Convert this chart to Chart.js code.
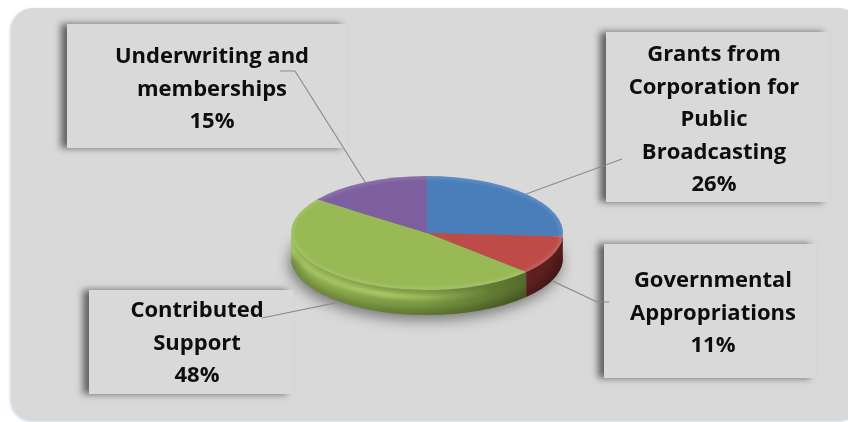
<!DOCTYPE html>
<html>
<head>
<meta charset="utf-8">
<script src="https://cdn.jsdelivr.net/npm/chart.js@4.4.1/dist/chart.umd.min.js"></script>
<style>
  html, body { margin: 0; padding: 0; background: #ffffff; overflow: hidden; }
  #wrap { position: relative; width: 848px; height: 422px; }
</style>
</head>
<body>
<div id="wrap"><canvas id="c" width="848" height="422"></canvas></div>
<script>
// Revenue sources, clockwise from 12 o'clock
const categories = [
  'Grants from Corporation for Public Broadcasting',
  'Governmental Appropriations',
  'Contributed Support',
  'Underwriting and memberships'
];
const shares = [26, 11, 48, 15];
const labelLines = [
  ['Grants from', 'Corporation for', 'Public', 'Broadcasting'],
  ['Governmental', 'Appropriations'],
  ['Contributed', 'Support'],
  ['Underwriting and', 'memberships']
];

// Styling
const topColors = ['#4a7ebb', '#be4b48', '#98b954', '#7d5f9f'];
const sideShades = [
  ['#3f6aa0', '#2f5283', '#22406a'],
  ['#a0403d', '#803130', '#551c1b'],
  ['#93b352', '#7a9841', '#465a24'],
  ['#6a5188', '#564270', '#3f3151']
];
const pieGeom = { cx: 427, cy: 233, rx: 136, ry: 57, depth: 25 };
const FONT_PX = 22;
const LINE_H = 32.5;
const FONT = 'bold ' + FONT_PX + 'px "Open Sans", "DejaVu Sans", sans-serif';

// Label callout boxes (one per category, same order)
const callouts = [
  { box: [606, 32, 223, 170], textX: 714, firstY: 55, path: [[622, 159]] },
  { box: [604, 244, 212, 134], textX: 713, firstY: 281, path: [[609, 302], [597, 302]] },
  { box: [89, 290, 204, 104], textX: 197, firstY: 311, path: [[262, 318]] },
  { box: [67, 24, 280, 124], textX: 212, firstY: 57, path: [[280, 71], [295, 71]] }
];

// Parts of an arc [a0, a1] whose rim faces the viewer (lower half of the ellipse)
function frontSegments(a0, a1) {
  const segs = [];
  for (let k = -1; k <= 2; k++) {
    const lo = Math.max(a0, 2 * Math.PI * k);
    const hi = Math.min(a1, 2 * Math.PI * k + Math.PI);
    if (hi > lo) segs.push([lo, hi]);
  }
  return segs;
}

const panelPlugin = {
  id: 'panel',
  beforeDraw(chart) {
    const ctx = chart.ctx;
    ctx.save();
    ctx.beginPath();
    ctx.roundRect(11, 8, 850, 413, 22);
    ctx.fillStyle = '#d9d9d9';
    ctx.shadowColor = 'rgba(120,150,200,0.35)';
    ctx.shadowBlur = 3;
    ctx.shadowOffsetX = -1;
    ctx.shadowOffsetY = 1;
    ctx.fill();
    ctx.restore();
  }
};

const pie3dPlugin = {
  id: 'pie3d',
  beforeDatasetsDraw(chart) {
    const ctx = chart.ctx;
    const arcs = chart.getDatasetMeta(0).data;
    const { cx, cy, rx, ry, depth } = pieGeom;

    // soft drop shadow under the disc
    ctx.save();
    ctx.beginPath();
    ctx.ellipse(cx, cy + depth, rx, ry, 0, 0, Math.PI * 2);
    ctx.fillStyle = '#777';
    ctx.shadowColor = 'rgba(0,0,0,0.45)';
    ctx.shadowBlur = 14;
    ctx.shadowOffsetX = -2;
    ctx.shadowOffsetY = 5;
    ctx.fill();
    ctx.restore();

    // rim of each slice
    arcs.forEach((arc, i) => {
      frontSegments(arc.startAngle, arc.endAngle).forEach(([lo, hi]) => {
        ctx.save();
        ctx.beginPath();
        ctx.ellipse(cx, cy, rx, ry, 0, lo, hi);
        ctx.ellipse(cx, cy + depth, rx, ry, 0, hi, lo, true);
        ctx.closePath();
        const g = ctx.createLinearGradient(cx - rx, 0, cx + rx, 0);
        g.addColorStop(0, sideShades[i][0]);
        g.addColorStop(0.5, sideShades[i][1]);
        g.addColorStop(1, sideShades[i][2]);
        ctx.fillStyle = g;
        ctx.fill();
        ctx.clip();
        // bevel highlight just under the top edge
        const h = ctx.createLinearGradient(cx - rx, 0, cx + rx, 0);
        h.addColorStop(0, 'rgba(225,255,150,0.25)');
        h.addColorStop(0.35, 'rgba(225,255,150,0.55)');
        h.addColorStop(0.75, 'rgba(225,255,150,0.0)');
        ctx.beginPath();
        ctx.ellipse(cx, cy + 7, rx, ry, 0, 0, Math.PI);
        ctx.lineWidth = 5;
        ctx.strokeStyle = h;
        ctx.filter = 'blur(2px)';
        ctx.stroke();
        // darker lower edge
        ctx.beginPath();
        ctx.ellipse(cx, cy + depth, rx, ry, 0, 0, Math.PI);
        ctx.lineWidth = 12;
        ctx.strokeStyle = 'rgba(0,0,0,0.22)';
        ctx.filter = 'blur(3px)';
        ctx.stroke();
        ctx.restore();
      });
    });

    // squash the flat pie into the top face of the disc
    const a0 = arcs[0];
    ctx.save();
    ctx.translate(cx, cy);
    ctx.scale(1, ry / rx);
    ctx.translate(-a0.x, -a0.y);
  },
  afterDatasetsDraw(chart) {
    const ctx = chart.ctx;
    ctx.restore();
    const { cx, cy, rx, ry } = pieGeom;
    // gentle rounding on the top edge
    ctx.save();
    ctx.beginPath();
    ctx.ellipse(cx, cy, rx, ry, 0, 0, Math.PI * 2);
    ctx.clip();
    ctx.beginPath();
    ctx.ellipse(cx, cy, rx - 1, ry - 1, 0, 0, Math.PI * 2);
    ctx.lineWidth = 4;
    ctx.strokeStyle = 'rgba(255,255,255,0.12)';
    ctx.filter = 'blur(1.5px)';
    ctx.stroke();
    ctx.restore();
  }
};

const calloutPlugin = {
  id: 'callouts',
  afterDraw(chart) {
    const ctx = chart.ctx;
    const arcs = chart.getDatasetMeta(0).data;
    const { cx, cy, rx, ry, depth } = pieGeom;
    callouts.forEach((c) => {
      const [bx, by, bw, bh] = c.box;
      ctx.save();
      ctx.fillStyle = '#d9d9d9';
      ctx.shadowColor = 'rgba(0,0,0,0.55)';
      ctx.shadowBlur = 7;
      ctx.shadowOffsetX = -6;
      ctx.shadowOffsetY = 0;
      ctx.fillRect(bx, by, bw, bh);
      ctx.restore();
    });
    callouts.forEach((c, i) => {
      const arc = arcs[i];
      const mid = (arc.startAngle + arc.endAngle) / 2;
      const px = cx + rx * Math.cos(mid);
      let py = cy + ry * Math.sin(mid);
      if (Math.sin(mid) > 0.2) py += depth;
      ctx.save();
      ctx.beginPath();
      ctx.moveTo(c.path[0][0], c.path[0][1]);
      for (let k = 1; k < c.path.length; k++) ctx.lineTo(c.path[k][0], c.path[k][1]);
      ctx.lineTo(px, py);
      ctx.lineWidth = 1.2;
      ctx.strokeStyle = '#8c8c8c';
      ctx.stroke();
      ctx.restore();

      ctx.save();
      ctx.font = FONT;
      ctx.fillStyle = '#0d0d0d';
      ctx.textAlign = 'center';
      ctx.textBaseline = 'middle';
      const lines = labelLines[i].concat([shares[i] + '%']);
      lines.forEach((t, k) => ctx.fillText(t, c.textX, c.firstY + k * LINE_H));
      ctx.restore();
    });
  }
};

new Chart(document.getElementById('c'), {
  type: 'pie',
  data: {
    labels: categories,
    datasets: [{
      data: shares,
      backgroundColor: topColors,
      borderWidth: 0,
      radius: pieGeom.rx
    }]
  },
  options: {
    responsive: false,
    animation: false,
    layout: { padding: 0 },
    plugins: { legend: { display: false }, tooltip: { enabled: false } }
  },
  plugins: [panelPlugin, pie3dPlugin, calloutPlugin]
});
</script>
</body>
</html>
